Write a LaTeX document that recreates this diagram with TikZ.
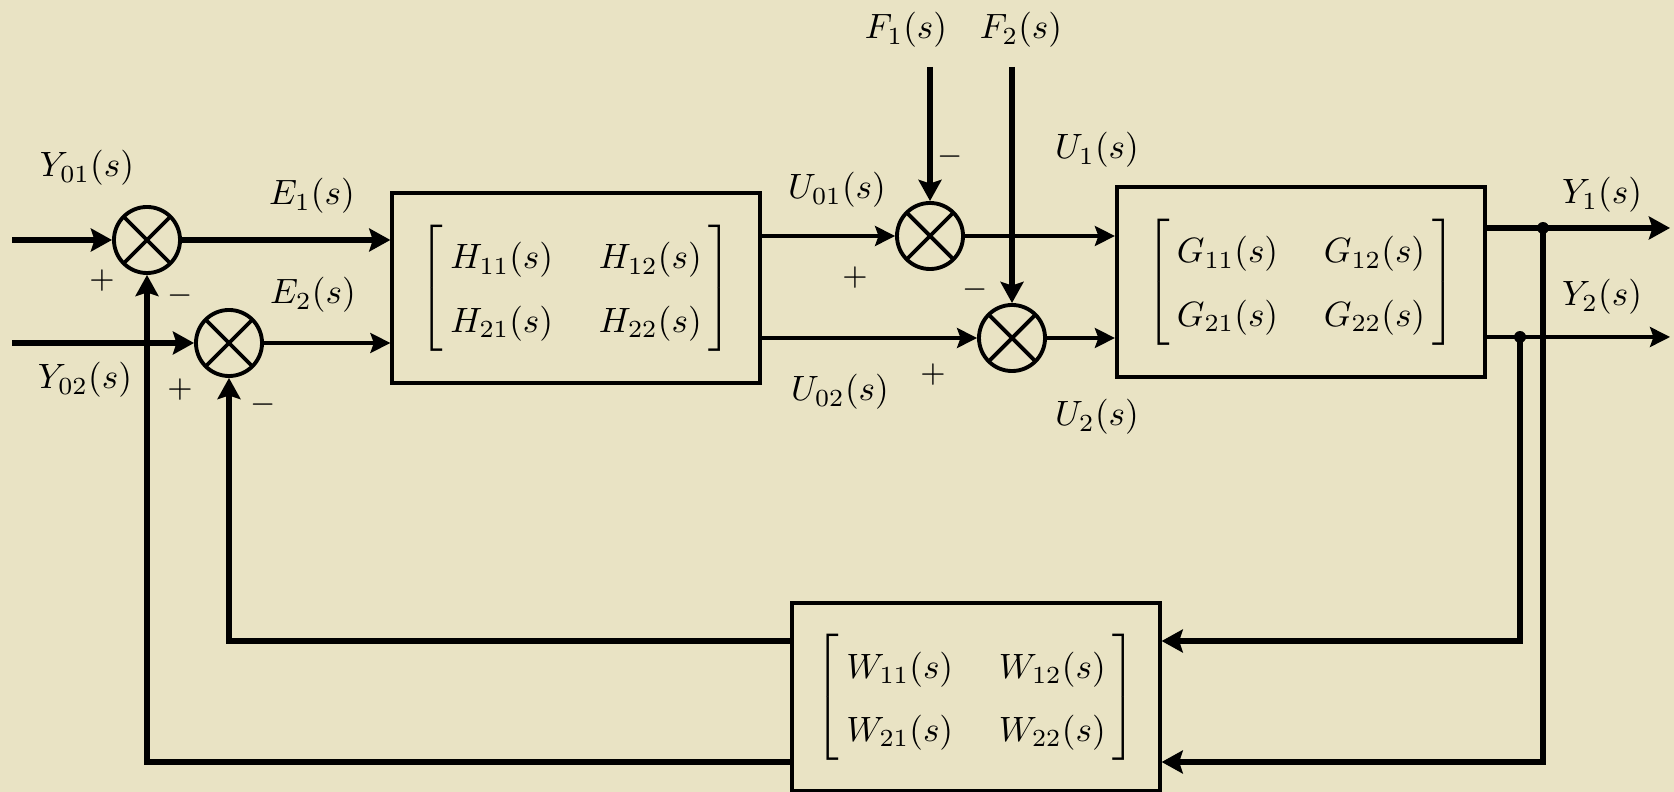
\documentclass[tikz,border=0pt]{standalone}
\usepackage{amsmath}
\usetikzlibrary{arrows.meta,calc}
\definecolor{PaperClr}{rgb}{0.914,0.890,0.769}
\newcommand{\TfMatrix}[1]{$\left[\begin{array}{@{\hspace{2pt}}c@{\hspace{13pt}}c@{\hspace{2pt}}}
#1_{11}(s) & #1_{12}(s)\\ #1_{21}(s) & #1_{22}(s)\end{array}\right]$}

\begin{document}
\begin{tikzpicture}[x=0.01cm,y=-0.01cm,
  block/.style={draw,line width=1.15pt,inner sep=0pt,font=\fontsize{10}{18}\selectfont},
  summer/.style={draw,circle,line width=1.1pt,minimum size=0.66cm,inner sep=0pt,
    path picture={\draw[line width=1.1pt] (path picture bounding box.north west) -- (path picture bounding box.south east)
      (path picture bounding box.south west) -- (path picture bounding box.north east);}},
  sig/.style={line width=0.95pt,-{Stealth[length=5.7pt,width=5.7pt,inset=1pt]}},
  bus/.style={line width=1.9pt,-{Stealth[length=6pt,width=6.5pt,inset=1pt]}},
  lbl/.style={font=\fontsize{10}{12}\selectfont,inner sep=0pt},
  sgn/.style={font=\small,inner sep=0pt}]

\fill[PaperClr] (0,0) rectangle (1674,792);
\useasboundingbox (0,0) rectangle (1674,792);

% blocks
\node[block,minimum width=3.67cm,minimum height=1.89cm] (H) at (576,288) {\TfMatrix{H}};
\node[block,minimum width=3.68cm,minimum height=1.90cm] (G) at (1301,282) {\TfMatrix{G}};
\node[block,minimum width=3.67cm,minimum height=1.87cm] (W) at (976,697) {\TfMatrix{W}};

% comparators
\node[summer] (S1) at (147,240) {};
\node[summer] (S2) at (229,343) {};
\node[summer] (S3) at (930,236) {};
\node[summer] (S4) at (1012,338) {};

\coordinate (In1) at (12,240);
\coordinate (In2) at (12,343);
\coordinate (F1) at (930,67);
\coordinate (F2) at (1012,67);
\coordinate (Out1) at (1670,228);
\coordinate (Out2) at (1670,337);
\coordinate (J1) at (1543,228);
\coordinate (J2) at (1520,337);
\coordinate (FbU) at (0,641);
\coordinate (FbL) at (0,762);

\draw[bus] (In1) -- (S1);
\draw[bus] (S1) -- (S1 -| H.west);
\draw[bus] (In2) -- (S2);
\draw[sig] (S2) -- (S2 -| H.west);

\draw[sig] (H.east |- S3) -- (S3);
\draw[sig] (H.east |- S4) -- (S4);
\draw[bus] (F1) -- (S3);
\draw[bus] (F2) -- (S4);
\draw[sig] (S3) -- (S3 -| G.west);
\draw[sig] (S4) -- (S4 -| G.west);

\draw[bus] (G.east |- J1) -- (Out1);
\draw[sig] (G.east |- J2) -- (Out2);

% feedback
\draw[bus] (J1) |- (W.east |- FbL);
\draw[bus] (J2) |- (W.east |- FbU);
\draw[bus] (W.west |- FbU) -| (S2);
\draw[bus] (W.west |- FbL) -| (S1);

\fill (J1) circle[radius=1.7pt];
\fill (J2) circle[radius=1.7pt];

% labels
\node[lbl] (lY01) at (87,168) {$Y_{01}(s)$};
\node[lbl] (lY02) at (85,380) {$Y_{02}(s)$};
\node[lbl] (lE1) at (312,196) {$E_1(s)$};
\node[lbl] (lE2) at (313,295) {$E_2(s)$};
\node[lbl] (lU01) at (837,190) {$U_{01}(s)$};
\node[lbl] (lU02) at (840,392) {$U_{02}(s)$};
\node[lbl] (lU1) at (1097,150) {$U_1(s)$};
\node[lbl] (lU2) at (1097,417) {$U_2(s)$};
\node[lbl] (lY1) at (1602,195) {$Y_1(s)$};
\node[lbl] (lY2) at (1602,297) {$Y_2(s)$};
\node[lbl] (lF1) at (906,30) {$F_1(s)$};
\node[lbl] (lF2) at (1021,30) {$F_2(s)$};

\node[sgn] (p1) at (102,281) {$+$};
\node[sgn] (m1) at (180,296) {$-$};
\node[sgn] (p2) at (180,390) {$+$};
\node[sgn] (m2) at (263,405) {$-$};
\node[sgn] (m3) at (950,157) {$-$};
\node[sgn] (p3) at (855,278) {$+$};
\node[sgn] (m4) at (975,290) {$-$};
\node[sgn] (p4) at (933,375) {$+$};

\end{tikzpicture}
\end{document}
